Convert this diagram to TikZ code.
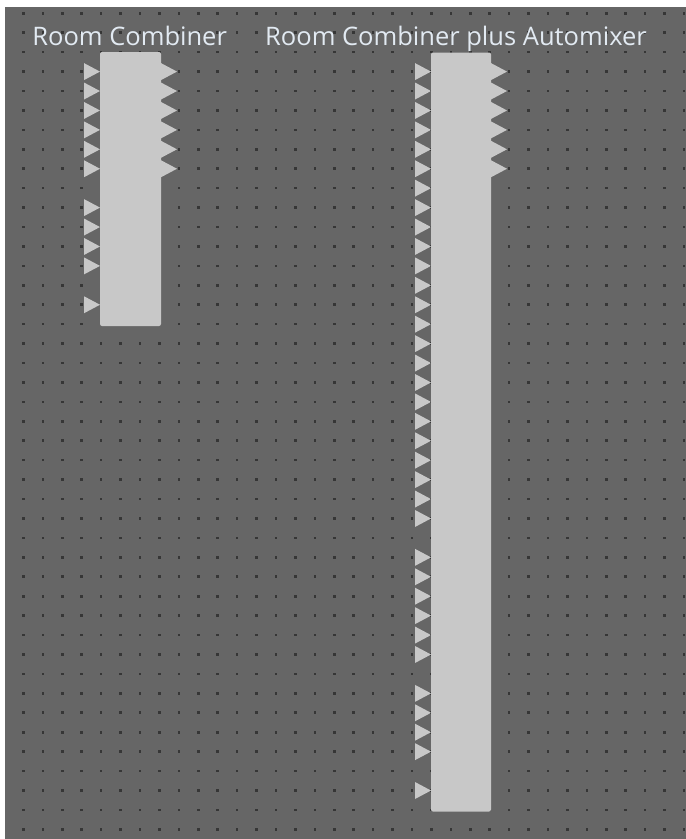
\documentclass[tikz,border=0pt]{standalone}
\usepackage{fontspec}
\usepackage{xcolor}
\usetikzlibrary{calc}
\setmainfont{Open Sans}
\definecolor{canvasgrey}{HTML}{666666}
\definecolor{dotgrey}{HTML}{363636}
\definecolor{blockgrey}{HTML}{C8C8C8}
\definecolor{titletext}{HTML}{E2EAF2}

\begin{document}
\begin{tikzpicture}[x=1pt, y=-1pt,
    block/.style={fill=blockgrey, rounded corners=2pt, anchor=north west, inner sep=0pt, outer sep=0pt},
    port/.style={fill=blockgrey},
    title/.style={anchor=base, text=titletext, font=\fontsize{25.5}{30}\selectfont, inner sep=0pt},
    gridpt/.style={fill=dotgrey}
  ]
    \useasboundingbox (0,0) rectangle (686,839);
    \fill[white] (0,0) rectangle (686,839);
    \fill[canvasgrey] (5,6.5) rectangle (686,839);

    % dotted canvas
    \begin{scope}
      \clip (5,6.5) rectangle (686,839);
      \foreach \i in {0,...,35}
        \foreach \j in {0,...,42}
          \fill[gridpt] ({2.7+19.43*\i},{12+19.43*\j}) rectangle ++(2.6,2.6);
    \end{scope}

    \node[block, minimum width=61pt, minimum height=274pt] (rc) at (100,52) {};
    \node[block, minimum width=60pt, minimum height=759pt] (rcam) at (431,52.5) {};
    \node[title] (rclabel) at ([xshift=-0.8pt,yshift=7pt]rc.north) {Room Combiner};
    \node[title] (rcamlabel) at ([xshift=-5pt,yshift=7pt]rcam.north) {Room Combiner plus Automixer};

    % inputs
    \foreach \r in {3,4,5,6,7,8,10,11,12,13,15} {
      \pgfmathsetmacro\yc{13.3+19.43*\r}
      \fill[port] (rc.west |- 0,\yc) -- ++(-16,-8.5) -- ++(0,17) -- cycle;
    }
    \foreach \r in {3,...,26} {
      \pgfmathsetmacro\yc{13.3+19.43*\r}
      \fill[port] (rcam.west |- 0,\yc) -- ++(-16,-8.5) -- ++(0,17) -- cycle;
    }
    \foreach \r in {28,29,30,31,32,33,35,36,37,38,40} {
      \pgfmathsetmacro\yc{13.3+19.43*\r}
      \fill[port] (rcam.west |- 0,\yc) -- ++(-16,-8.5) -- ++(0,17) -- cycle;
    }
    % outputs
    \foreach \r in {3,...,8} {
      \pgfmathsetmacro\yc{13.3+19.43*\r}
      \fill[port] (rc.east |- 0,\yc) ++(0,-8.5) -- ++(16,8.5) -- ++(-16,8.5) -- cycle;
      \fill[port] (rcam.east |- 0,\yc) ++(0,-8.5) -- ++(16,8.5) -- ++(-16,8.5) -- cycle;
    }
\end{tikzpicture}
\end{document}
